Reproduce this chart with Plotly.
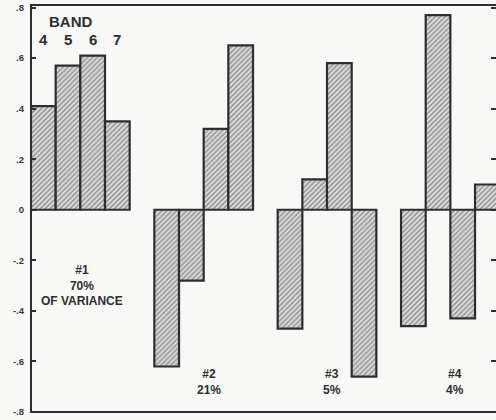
import plotly.graph_objects as go

factors = ["#1", "#2", "#3", "#4"]
variance = ["70%", "21%", "5%", "4%"]
bands = ["4", "5", "6", "7"]
band4 = [0.41, -0.62, -0.47, -0.46]
band5 = [0.57, -0.28, 0.12, 0.77]
band6 = [0.61, 0.32, 0.58, -0.43]
band7 = [0.35, 0.65, -0.66, 0.10]
series = [band4, band5, band6, band7]
ytickvals = [0.8, 0.6, 0.4, 0.2, 0, -0.2, -0.4, -0.6, -0.8]
yticktext = [".8", ".6", ".4", ".2", "0", "-.2", "-.4", "-.6", "-.8"]

INK = "#2e2e2e"
BG = "#f8f8f6"
FONT = "Liberation Sans"

fig = go.Figure()
for name, vals in zip(bands, series):
    fig.add_bar(
        x=factors, y=vals, name="Band " + name,
        marker=dict(
            color="#d8d8d8",
            line=dict(color=INK, width=2.2),
            pattern=dict(shape="/", size=3.5, solidity=0.45,
                         fgcolor="#444444", bgcolor="#e0e0e0"),
        ),
        showlegend=False,
    )

annotations = []
annotations.append(dict(x=-0.08, y=0.745, xref="x", yref="y", text="BAND",
                        showarrow=False, font=dict(size=15, color=INK, family=FONT, weight="bold")))
for i, b in enumerate(bands):
    annotations.append(dict(x=(i - 1.5) * 0.2, y=0.675, xref="x", yref="y", text=b,
                            showarrow=False, font=dict(size=15, color=INK, family=FONT, weight="bold")))
for i, (f, v) in enumerate(zip(factors, variance)):
    if i == 0:
        txt = f + "<br>" + v + "<br>OF VARIANCE"
        y = -0.3
        dx = 0.01
    else:
        txt = f + "<br>" + v
        y = -0.68
        dx = 0.04
    annotations.append(dict(x=i + dx, y=y, xref="x", yref="y", text=txt, showarrow=False,
                            font=dict(size=12, color=INK, family=FONT, weight="bold")))

fig.update_layout(
    width=496, height=420,
    margin=dict(l=31, r=0, t=5, b=8),
    paper_bgcolor=BG, plot_bgcolor=BG,
    barmode="group", bargap=0.2, bargroupgap=0,
    annotations=annotations,
    font=dict(family=FONT, color=INK),
    shapes=[dict(type="rect", xref="paper", yref="paper", x0=0, x1=1.02, y0=0, y1=1,
                 line=dict(color=INK, width=2), fillcolor="rgba(0,0,0,0)", layer="above")],
)
fig.update_xaxes(type="category", range=[-0.4, 3.37], showline=False,
                 showticklabels=False, ticks="",
                 showgrid=False, zeroline=False, automargin=False)
fig.update_yaxes(range=[-0.8, 0.81], tickvals=ytickvals, ticktext=yticktext,
                 ticks="inside", ticklen=5, tickwidth=1.5, tickcolor=INK,
                 showline=False, mirror="ticks", linecolor=INK, linewidth=2,
                 showgrid=False, zeroline=False, automargin=False,
                 ticklabelstandoff=6,
                 tickfont=dict(size=9.5, color="#3a3a3a", family=FONT, weight="bold"))

fig.write_html("out.html", config={"displayModeBar": False},
               post_script="document.body.style.margin='0';document.body.style.background='#f8f8f6';")
